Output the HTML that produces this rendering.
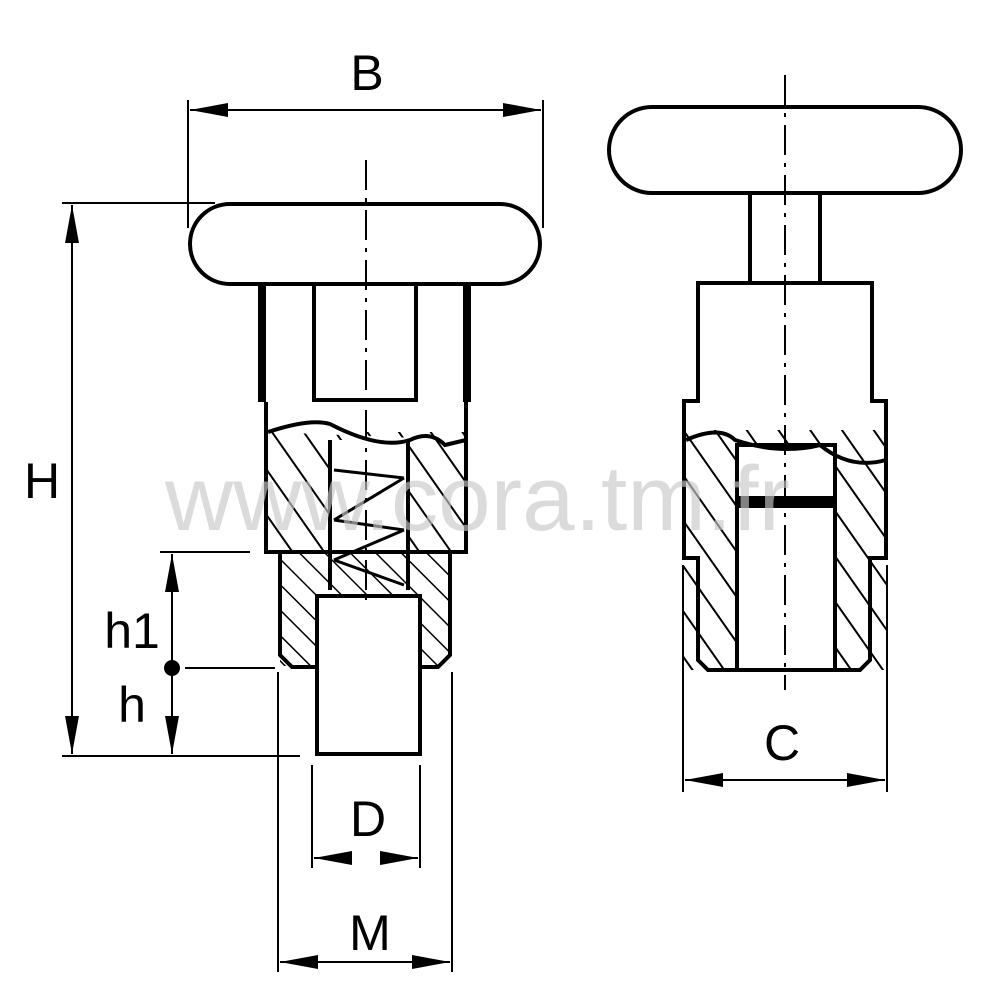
<!DOCTYPE html>
<html><head><meta charset="utf-8"><style>html,body{margin:0;padding:0;background:#fff}svg{display:block}</style></head>
<body>
<svg width="1000" height="1000" viewBox="0 0 1000 1000" xmlns="http://www.w3.org/2000/svg">
<defs>
<pattern id="hat" patternUnits="userSpaceOnUse" width="26" height="26" patternTransform="rotate(-35)">
<line x1="0" y1="0" x2="0" y2="26" stroke="#000" stroke-width="4"/>
</pattern>
<pattern id="hat2" patternUnits="userSpaceOnUse" width="18" height="18" patternTransform="rotate(-45)">
<line x1="0" y1="0" x2="0" y2="18" stroke="#000" stroke-width="3"/>
</pattern>
<marker id="ar" markerWidth="38" markerHeight="14" refX="38" refY="7" orient="auto-start-reverse" markerUnits="userSpaceOnUse">
<path d="M0,0 L38,7 L0,14 Z" fill="#000"/></marker>
</defs>
<g fill="none" stroke="#000" stroke-width="4">
<rect x="190" y="204" width="350" height="80" rx="40" fill="#fff"/>
<line x1="262" y1="286" x2="262" y2="402" stroke-width="8"/>
<line x1="467" y1="286" x2="467" y2="402" stroke-width="8"/>
<path d="M314 286 V400 H416 V286"/>
<rect x="266" y="432" width="200" height="120" fill="url(#hat)" stroke="none"/>
<rect x="330" y="440" width="80" height="150" fill="#fff" stroke="none"/>
<path d="M266 402 V552 H466 V402"/>
<path d="M268 432 Q310 418 330 424 Q380 450 410 440 Q430 430 445 445 L466 440" fill="#fff"/>
<line x1="330" y1="440" x2="330" y2="590"/>
<line x1="408" y1="440" x2="408" y2="590"/>
<path d="M334 470 L404 478 M334 520 L404 478 M334 520 L404 530 M334 560 L404 530 M334 560 L404 585" stroke-width="3"/>
<rect x="280" y="552" width="170" height="114" fill="url(#hat2)" stroke="none"/>
<path d="M280 552 V655 L292 667 H438 L450 655 V552"/>
<rect x="317" y="596" width="103" height="158" fill="#fff"/>
<line x1="366" y1="160" x2="366" y2="600" stroke-width="2" stroke-dasharray="30,8,4,8"/>
<rect x="609" y="107" width="352" height="86" rx="43" fill="#fff"/>
<line x1="750" y1="193" x2="750" y2="283"/>
<line x1="820" y1="193" x2="820" y2="283"/>
<rect x="684" y="430" width="202" height="240" fill="url(#hat)" stroke="none"/>
<path d="M698 283 H872 V401 H886 V558 H870 V660 L860 670 H708 L698 660 V558 H684 V401 H698 Z"/>
<rect x="737" y="445" width="98" height="225" fill="#fff"/>
<path d="M686 440 Q720 425 735 440 Q780 455 820 445 Q850 470 886 460" fill="none"/>
<rect x="737" y="498" width="98" height="8" fill="#000"/>
<line x1="785" y1="75" x2="785" y2="690" stroke-width="2" stroke-dasharray="30,8,4,8"/>
</g>
<g stroke="#000" stroke-width="2" fill="none">
<line x1="188" y1="100" x2="188" y2="228"/><line x1="543" y1="100" x2="543" y2="228"/>
<line x1="190" y1="110" x2="541" y2="110" marker-end="url(#ar)" marker-start="url(#ar)"/>
<line x1="62" y1="203" x2="215" y2="203"/><line x1="62" y1="756" x2="300" y2="756"/>
<line x1="72" y1="205" x2="72" y2="754" marker-start="url(#ar)" marker-end="url(#ar)"/>
<line x1="160" y1="552" x2="250" y2="552"/>
<line x1="185" y1="668" x2="275" y2="668"/>
<line x1="172" y1="554" x2="172" y2="660" marker-start="url(#ar)"/>
<line x1="172" y1="676" x2="172" y2="754" marker-end="url(#ar)"/>
<line x1="172" y1="660" x2="172" y2="676"/>
<line x1="312" y1="765" x2="312" y2="868"/><line x1="420" y1="765" x2="420" y2="868"/>
<line x1="352" y1="858" x2="314" y2="858" marker-end="url(#ar)"/>
<line x1="380" y1="858" x2="418" y2="858" marker-end="url(#ar)"/>
<line x1="278" y1="672" x2="278" y2="972"/><line x1="452" y1="672" x2="452" y2="972"/>
<line x1="280" y1="962" x2="450" y2="962" marker-start="url(#ar)" marker-end="url(#ar)"/>
<line x1="683" y1="565" x2="683" y2="792"/><line x1="887" y1="565" x2="887" y2="792"/>
<line x1="685" y1="780" x2="885" y2="780" marker-start="url(#ar)" marker-end="url(#ar)"/>
</g>
<circle cx="172" cy="668" r="8" fill="#000"/>
<text x="165" y="530" font-family="Liberation Sans, sans-serif" font-size="92" fill="#c8c8c8" fill-opacity="0.65" textLength="625" lengthAdjust="spacingAndGlyphs">www.cora.tm.fr</text>
<g font-family="Liberation Sans, sans-serif" font-size="50" fill="#000" text-anchor="middle">
<text x="367" y="90">B</text>
<text x="42" y="498">H</text>
<text x="132" y="648">h1</text>
<text x="132" y="722">h</text>
<text x="368" y="836">D</text>
<text x="370" y="950">M</text>
<text x="782" y="760">C</text>
</g>
</svg>
</body></html>
